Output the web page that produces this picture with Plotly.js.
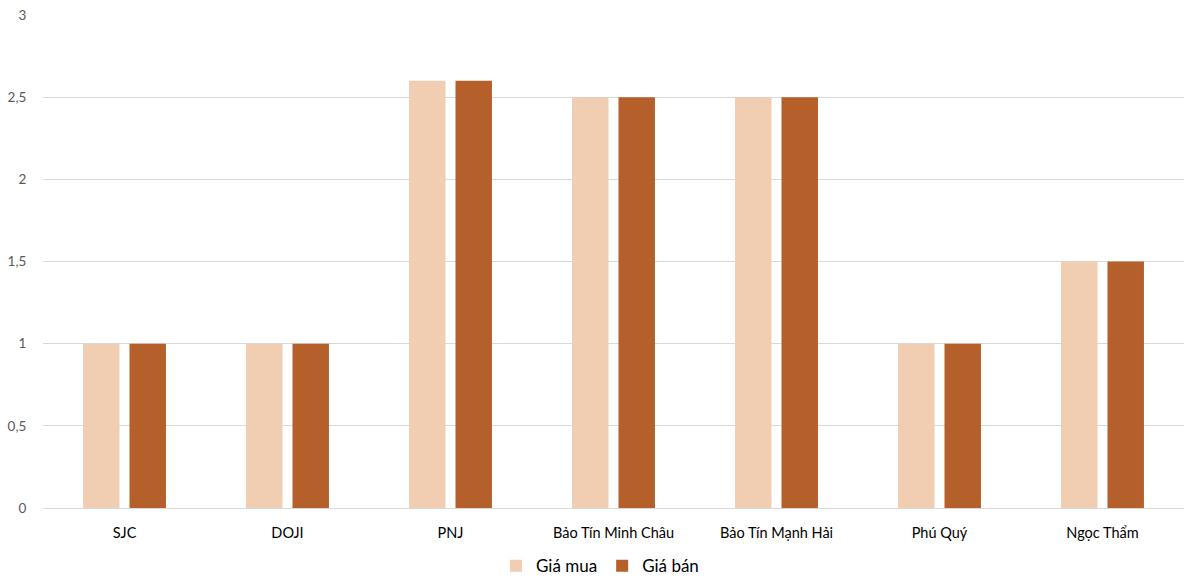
<!DOCTYPE html>
<html>
<head>
<meta charset="utf-8">
<script src="https://cdn.plot.ly/plotly-3.0.1.min.js"></script>
<style>
  html, body { margin: 0; padding: 0; background: #fff; }
  #chart { width: 1200px; height: 588px; }
</style>
</head>
<body>
<div id="chart"></div>
<script>
var categories = ['SJC', 'DOJI', 'PNJ', 'Bảo Tín Minh Châu', 'Bảo Tín Mạnh Hải', 'Phú Quý', 'Ngọc Thẩm'];
var giaMua = [1, 1, 2.6, 2.5, 2.5, 1, 1.5];
var giaBan = [1, 1, 2.6, 2.5, 2.5, 1, 1.5];
var yTicks = [0, 0.5, 1, 1.5, 2, 2.5, 3];

var data = [
  {
    x: categories,
    y: giaMua,
    name: 'Giá mua',
    type: 'bar',
    marker: {color: '#F1CEB1'},
    hoverinfo: 'none'
  },
  {
    x: categories,
    y: giaBan,
    name: 'Giá bán',
    type: 'bar',
    marker: {color: '#B5602B'},
    hoverinfo: 'none'
  }
];

var layout = {
  width: 1200,
  height: 588,
  margin: {t: 15, b: 80, l: 43, r: 16},
  paper_bgcolor: '#ffffff',
  plot_bgcolor: '#ffffff',
  separators: ',.',
  font: {family: 'Lato, "Open Sans", sans-serif', size: 13, color: '#000000'},
  barmode: 'group',
  bargap: 0.43,
  bargroupgap: 0.215,
  xaxis: {
    automargin: false,
    showgrid: false,
    zeroline: false,
    showline: false,
    ticks: 'outside',
    ticklen: 12,
    tickcolor: 'rgba(0,0,0,0)',
    tickfont: {size: 14.5, color: '#000000'}
  },
  yaxis: {
    automargin: false,
    range: [0, 3],
    tickvals: yTicks,
    showgrid: true,
    gridcolor: '#D9D9D9',
    gridwidth: 1,
    zeroline: true,
    zerolinecolor: '#D9D9D9',
    zerolinewidth: 1,
    showline: false,
    ticks: 'outside',
    ticklen: 13,
    tickcolor: 'rgba(0,0,0,0)',
    tickfont: {size: 13.5, color: '#595959'}
  },
  showlegend: true,
  legend: {
    orientation: 'h',
    x: 0.5,
    xanchor: 'center',
    xref: 'container',
    y: 0.037,
    yref: 'container',
    yanchor: 'middle',
    font: {size: 17, color: '#000000'},
    itemwidth: 30,
    traceorder: 'normal'
  }
};

Plotly.newPlot('chart', data, layout, {displayModeBar: false, staticPlot: true});
</script>
</body>
</html>
